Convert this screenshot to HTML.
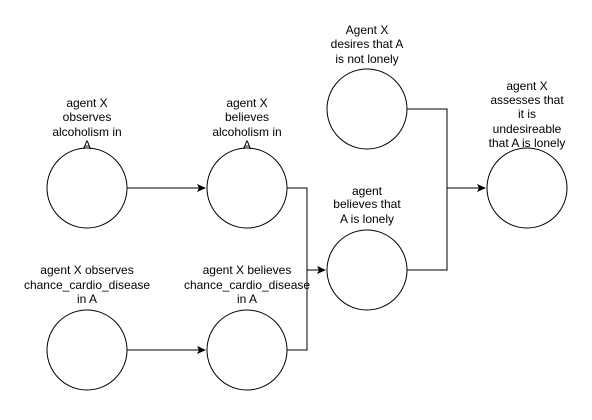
<!DOCTYPE html>
<html><head><style>
html,body{margin:0;padding:0;background:#fff;}
svg text{font-family:"Liberation Sans",Arial,sans-serif;font-size:12px;fill:#000;text-anchor:middle;dominant-baseline:central;}
</style></head><body>
<svg width="592" height="415" viewBox="0 0 592 415" xmlns="http://www.w3.org/2000/svg">
<defs><marker id="a" markerWidth="10" markerHeight="10" refX="8" refY="5" orient="auto" markerUnits="userSpaceOnUse"><path d="M0,1 L9,5 L0,9 L2,5 Z" fill="#000"/></marker></defs>
<g fill="#fff" stroke="#000" stroke-width="1">
<circle cx="87" cy="188" r="40"/><circle cx="247" cy="188" r="40"/>
<circle cx="87" cy="350" r="40"/><circle cx="247" cy="350" r="40"/>
<circle cx="367" cy="109" r="40"/><circle cx="367" cy="270" r="40"/>
<circle cx="527" cy="188" r="40"/>
</g>
<g fill="none" stroke="#000" stroke-width="1">
<path d="M127 188H205" marker-end="url(#a)"/>
<path d="M127 350H205" marker-end="url(#a)"/>
<path d="M287 188H307V270H325" marker-end="url(#a)"/>
<path d="M287 350H307V270"/>
<path d="M407 109H447V188H485" marker-end="url(#a)"/>
<path d="M407 270H447V188"/>
</g>
<text x="87" y="103">agent X</text><text x="87" y="117">observes</text><text x="87" y="132">alcoholism in</text><text x="87" y="145">A</text>
<text x="247" y="103">agent X</text><text x="247" y="117">believes</text><text x="247" y="132">alcoholism in</text><text x="247" y="145">A</text>
<text x="87" y="270">agent X observes</text><text x="87" y="285">chance_cardio_disease</text><text x="87" y="299">in A</text>
<text x="247" y="270">agent X believes</text><text x="247" y="285">chance_cardio_disease</text><text x="247" y="299">in A</text>
<text x="367" y="30">Agent X</text><text x="367" y="44">desires that A</text><text x="367" y="59">is not lonely</text>
<text x="367" y="191">agent</text><text x="367" y="204">believes that</text><text x="367" y="219">A is lonely</text>
<text x="527" y="86">agent X</text><text x="527" y="100">assesses that</text><text x="527" y="114">it is</text><text x="527" y="129">undesireable</text><text x="527" y="143">that A is lonely</text>
</svg>
</body></html>
